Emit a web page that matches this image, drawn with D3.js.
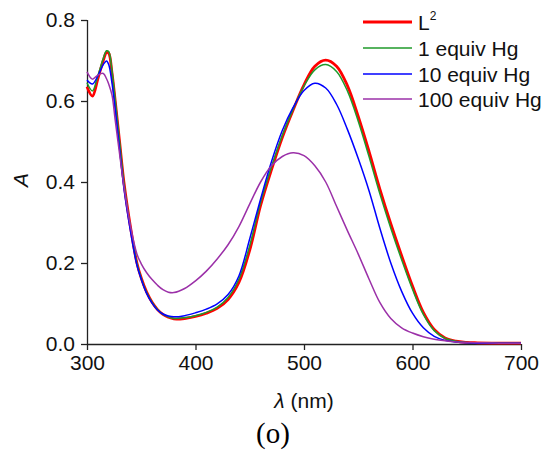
<!DOCTYPE html>
<html>
<head>
<meta charset="utf-8">
<script src="https://cdn.jsdelivr.net/npm/d3@7"></script>
<style>
  html, body { margin: 0; padding: 0; background: #fff; }
  svg { display: block; }
</style>
</head>
<body>
<svg id="chart" width="553" height="455"></svg>
<script>
// ---- data ----
const wavelengths = [300,305,310,315,318,320,323,326,330,334,340,346,350,355,360,365,370,375,380,390,400,410,420,430,440,450,460,470,480,490,500,510,520,530,540,550,560,570,580,590,600,610,620,630,640,650,660,680,700];

const seriesL2 = [0.635,0.612,0.655,0.700,0.720,0.718,0.670,0.600,0.500,0.400,0.290,0.200,0.163,0.128,0.103,0.085,0.073,0.066,0.062,0.063,0.068,0.076,0.088,0.110,0.152,0.232,0.342,0.430,0.510,0.578,0.640,0.686,0.701,0.686,0.638,0.562,0.475,0.382,0.297,0.218,0.143,0.078,0.036,0.015,0.007,0.004,0.003,0.002,0.002];

const series1Hg = [0.645,0.625,0.662,0.705,0.724,0.722,0.675,0.603,0.500,0.398,0.288,0.199,0.162,0.127,0.103,0.085,0.073,0.067,0.063,0.065,0.070,0.078,0.091,0.115,0.160,0.243,0.350,0.437,0.515,0.580,0.637,0.677,0.690,0.673,0.625,0.550,0.462,0.370,0.286,0.208,0.135,0.073,0.033,0.014,0.007,0.004,0.003,0.002,0.002];

const series10Hg = [0.652,0.642,0.662,0.690,0.699,0.690,0.645,0.580,0.482,0.385,0.280,0.195,0.160,0.125,0.101,0.084,0.074,0.069,0.067,0.070,0.077,0.086,0.099,0.122,0.168,0.260,0.358,0.450,0.527,0.584,0.626,0.644,0.632,0.592,0.530,0.458,0.378,0.285,0.200,0.130,0.076,0.040,0.019,0.009,0.005,0.003,0.002,0.002,0.002];

const series100Hg = [0.672,0.654,0.664,0.668,0.655,0.642,0.615,0.553,0.470,0.390,0.292,0.222,0.198,0.176,0.159,0.145,0.134,0.128,0.127,0.137,0.156,0.180,0.210,0.245,0.290,0.346,0.400,0.440,0.463,0.472,0.465,0.440,0.400,0.340,0.280,0.222,0.160,0.102,0.063,0.040,0.027,0.018,0.012,0.008,0.005,0.004,0.003,0.002,0.002];

const seriesNames = ["L2", "1 equiv Hg", "10 equiv Hg", "100 equiv Hg"];
const seriesColors = ["#ff0000", "#1f9a2a", "#0000ff", "#9b30a8"];
const seriesWidths = [2.8, 1.5, 1.5, 1.5];
const allSeries = [seriesL2, series1Hg, series10Hg, series100Hg];

const xTicks = [300, 400, 500, 600, 700];
const yTicks = [0.0, 0.2, 0.4, 0.6, 0.8];

// ---- layout ----
const svg = d3.select("#chart");
const x = d3.scaleLinear().domain([300, 700]).range([87, 521]);
const y = d3.scaleLinear().domain([0, 0.8]).range([344, 20]);

const fontSans = "'Liberation Sans', Arial, Helvetica, sans-serif";

// axes
const xAxis = d3.axisBottom(x).tickValues(xTicks).tickSize(6).tickPadding(5).tickFormat(d3.format("d"));
const yAxis = d3.axisLeft(y).tickValues(yTicks).tickSize(6).tickPadding(6).tickFormat(d3.format(".1f"));

const gx = svg.append("g").attr("transform", "translate(0,344)").call(xAxis);
const gy = svg.append("g").attr("transform", "translate(87,0)").call(yAxis);

[gx, gy].forEach(g => {
  g.select(".domain").attr("stroke", "#222").attr("stroke-width", 1.3);
  g.selectAll(".tick line").attr("stroke", "#222").attr("stroke-width", 1.3);
  g.selectAll(".tick text").attr("fill", "#111").style("font-family", fontSans).style("font-size", "21px");
});
gx.select(".domain").attr("d", "M87,0.5H521");
gy.select(".domain").attr("d", "M0.5,20V344");

// lines
const line = d3.line()
  .x((d, i) => x(wavelengths[i]))
  .y(d => y(d))
  .curve(d3.curveCatmullRom.alpha(0.5));

allSeries.forEach((s, k) => {
  svg.append("path")
    .datum(s)
    .attr("fill", "none")
    .attr("stroke", seriesColors[k])
    .attr("stroke-width", seriesWidths[k])
    .attr("stroke-linejoin", "round")
    .attr("d", line);
});

// legend
const legend = svg.append("g").attr("transform", "translate(363,0)");
const legY = [22, 48, 74, 99];
seriesNames.forEach((name, k) => {
  legend.append("line")
    .attr("x1", 0).attr("x2", 49)
    .attr("y1", legY[k]).attr("y2", legY[k])
    .attr("stroke", seriesColors[k])
    .attr("stroke-width", k === 0 ? 3 : 1.6);
  const t = legend.append("text")
    .attr("x", 55).attr("y", legY[k] + 8)
    .attr("fill", "#111")
    .style("font-family", fontSans)
    .style("font-size", "21px");
  if (k === 0) {
    t.append("tspan").text("L");
    t.append("tspan").attr("dy", -10).style("font-size", "12px").text("2");
  } else {
    t.text(name);
  }
});

// axis titles
const xt = svg.append("text")
  .attr("x", 304).attr("y", 408)
  .attr("text-anchor", "middle")
  .attr("fill", "#111")
  .style("font-family", fontSans)
  .style("font-size", "21px");
xt.append("tspan").style("font-style", "italic").text("λ");
xt.append("tspan").text(" (nm)");

svg.append("text")
  .attr("transform", "translate(28,180) rotate(-90)")
  .attr("text-anchor", "middle")
  .attr("fill", "#111")
  .style("font-family", fontSans)
  .style("font-style", "italic")
  .style("font-size", "21px")
  .text("A");

svg.append("text")
  .attr("x", 273).attr("y", 443)
  .attr("text-anchor", "middle")
  .attr("fill", "#000")
  .style("font-family", "'Liberation Serif', 'Times New Roman', serif")
  .style("font-size", "29px")
  .text("(o)");
</script>
</body>
</html>
